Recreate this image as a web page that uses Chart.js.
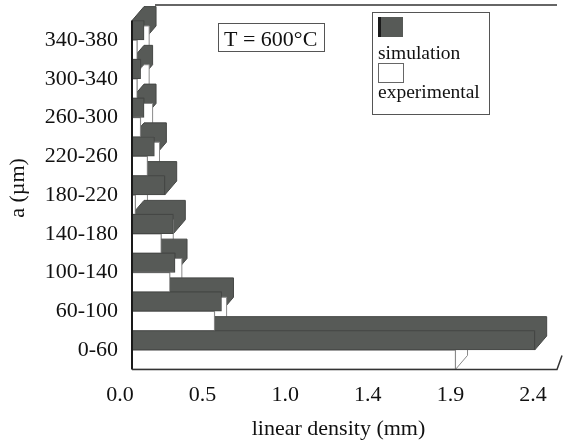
<!DOCTYPE html>
<html><head><meta charset="utf-8">
<script src="https://cdn.jsdelivr.net/npm/chart.js@4/dist/chart.umd.min.js"></script>
<style>html,body{margin:0;padding:0;background:#fff}#wrap{width:563px;height:442px;position:relative}</style>
</head><body><div id="wrap"><canvas id="c" width="563" height="442"></canvas></div>
<script>
const categories = ['0-60','60-100','100-140','140-180','180-220','220-260','260-300','300-340','340-380'];
const simulation = [2.34, 0.52, 0.25, 0.24, 0.19, 0.13, 0.07, 0.05, 0.07];
const experimental = [1.88, 0.48, 0.22, 0.17, 0.02, 0.09, 0.05, 0.03, 0.03];
const xTickValues = [0, 0.48, 0.96, 1.44, 1.92, 2.4];
const seriesNames = ['simulation', 'experimental'];
const annotationText = 'T = 600°C';
const xTitle = 'linear density (mm)';
const yTitle = 'a (µm)';

const FONT = "'Liberation Serif', 'Times New Roman', serif";
const SIM_COLOR = '#575a57';
const SIM_BORDER = '#454745';
const EXP_COLOR = '#ffffff';
const EXP_BORDER = '#8a8a8a';
const DX = 12, DY = 14;

const depthPlugin = {
  id: 'depth3d',
  beforeDatasetsDraw(chart) {
    const ctx = chart.ctx;
    const n = chart.data.labels.length;
    for (let i = n - 1; i >= 0; i--) {
      chart.data.datasets.forEach((ds, di) => {
        const el = chart.getDatasetMeta(di).data[i];
        if (!el) return;
        const p = el.getProps(['x', 'y', 'base', 'height'], true);
        const top = p.y - p.height / 2, bot = p.y + p.height / 2;
        ctx.save();
        ctx.fillStyle = ds.backgroundColor;
        ctx.strokeStyle = ds.borderColor;
        ctx.lineWidth = 1;
        ctx.beginPath();
        ctx.moveTo(p.base, top);
        ctx.lineTo(p.base + DX, top - DY);
        ctx.lineTo(p.x + DX, top - DY);
        ctx.lineTo(p.x + DX, bot - DY);
        ctx.lineTo(p.x, bot);
        ctx.lineTo(p.x, top);
        ctx.closePath();
        ctx.fill();
        ctx.stroke();
        ctx.restore();
      });
    }
  }
};

const framePlugin = {
  id: 'frame',
  afterDraw(chart) {
    const ctx = chart.ctx;
    const a = chart.chartArea;
    ctx.save();
    // back wall top edge
    ctx.strokeStyle = '#333';
    ctx.lineWidth = 1.5;
    ctx.beginPath();
    ctx.moveTo(a.left + 23, a.top - 15.5);
    ctx.lineTo(a.right + 12, a.top - 15.5);
    ctx.stroke();
    // left axis
    ctx.strokeStyle = '#1a1a1a';
    ctx.lineWidth = 2;
    ctx.beginPath();
    ctx.moveTo(a.left, a.top);
    ctx.lineTo(a.left, a.bottom);
    ctx.stroke();
    // floor front edge
    ctx.lineWidth = 1.5;
    ctx.strokeStyle = '#333';
    ctx.beginPath();
    ctx.moveTo(a.left, a.bottom);
    ctx.lineTo(a.right + 12, a.bottom);
    ctx.lineTo(a.right + 17, a.bottom - 14);
    ctx.stroke();

    // y axis title
    ctx.save();
    ctx.translate(18, 188);
    ctx.rotate(-Math.PI / 2);
    ctx.fillStyle = '#111';
    ctx.font = '22px ' + FONT;
    ctx.textAlign = 'center';
    ctx.textBaseline = 'middle';
    ctx.fillText(yTitle, 0, 0);
    ctx.restore();

    // annotation box
    ctx.fillStyle = '#fff';
    ctx.strokeStyle = '#555';
    ctx.lineWidth = 1;
    ctx.fillRect(a.left + 86, 23, 106, 28);
    ctx.strokeRect(a.left + 86.5, 23.5, 106, 28);
    ctx.fillStyle = '#111';
    ctx.font = '22px ' + FONT;
    ctx.textBaseline = 'alphabetic';
    ctx.textAlign = 'left';
    ctx.fillText(annotationText, a.left + 92, 46);

    // legend
    const lx = 372, ly = 12;
    ctx.fillStyle = '#fff';
    ctx.fillRect(lx, ly, 117, 102);
    ctx.strokeStyle = '#555';
    ctx.strokeRect(lx + 0.5, ly + 0.5, 117, 102);
    const ds = chart.data.datasets;
    ctx.fillStyle = ds[0].backgroundColor;
    ctx.fillRect(lx + 6, ly + 5, 25, 20);
    ctx.fillStyle = '#1a1a1a';
    ctx.fillRect(lx + 6, ly + 5, 3, 20);
    ctx.fillStyle = ds[1].backgroundColor;
    ctx.fillRect(lx + 6, ly + 51, 25, 19);
    ctx.strokeStyle = '#666';
    ctx.strokeRect(lx + 6.5, ly + 51.5, 25, 19);
    ctx.fillStyle = '#111';
    ctx.font = '19.5px ' + FONT;
    ctx.fillText(ds[0].label, lx + 6, ly + 47);
    ctx.fillText(ds[1].label, lx + 6, ly + 86);
    ctx.restore();
  }
};

new Chart(document.getElementById('c'), {
  type: 'bar',
  data: {
    labels: categories,
    datasets: [
      { label: seriesNames[0], data: simulation, backgroundColor: SIM_COLOR, borderColor: SIM_BORDER, borderWidth: 1 },
      { label: seriesNames[1], data: experimental, backgroundColor: EXP_COLOR, borderColor: EXP_BORDER, borderWidth: 1 }
    ]
  },
  options: {
    indexAxis: 'y',
    responsive: false,
    animation: false,
    devicePixelRatio: 1,
    layout: { padding: { left: 0, top: 20.6, right: 18, bottom: 0 } },
    categoryPercentage: 1.0,
    barPercentage: 1.0,
    plugins: { legend: { display: false }, tooltip: { enabled: false } },
    scales: {
      x: {
        type: 'linear', min: 0, max: 2.4,
        grid: { display: false, drawTicks: false },
        border: { display: false },
        afterBuildTicks: s => { s.ticks = xTickValues.map(v => ({ value: v })); },
        afterFit: s => { s.height = 72.6; s.paddingLeft = 0; s.paddingRight = 0; },
        ticks: {
          padding: 13, labelOffset: -12, maxRotation: 0, autoSkip: false,
          color: '#111', font: { family: FONT, size: 22 },
          callback: v => Number(v).toFixed(1)
        },
        title: { display: true, text: xTitle, color: '#111', font: { family: FONT, size: 22 }, padding: { top: 4, bottom: 0 } }
      },
      y: {
        type: 'category', reverse: true,
        grid: { display: false, drawTicks: false },
        border: { display: false },
        afterFit: s => { s.width = 132; s.paddingTop = 0; s.paddingBottom = 0; },
        ticks: { padding: 14, color: '#111', font: { family: FONT, size: 22 } },
        title: { display: false, text: yTitle }
      }
    }
  },
  plugins: [depthPlugin, framePlugin]
});
</script>
</body></html>
